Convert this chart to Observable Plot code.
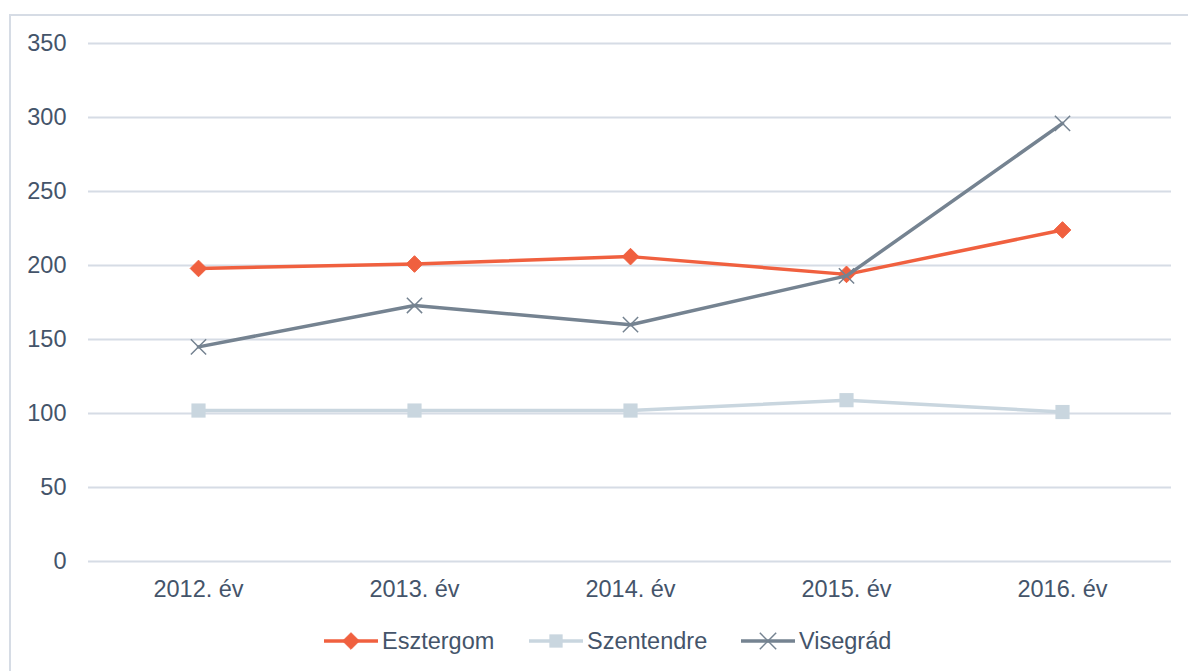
<!DOCTYPE html>
<html>
<head>
<meta charset="utf-8">
<script src="https://cdn.jsdelivr.net/npm/d3@7"></script>
<script src="https://cdn.jsdelivr.net/npm/@observablehq/plot@0.6"></script>
<style>
  html, body { margin: 0; padding: 0; background: #fff; }
  body { width: 1188px; height: 671px; position: relative; overflow: hidden; font-family: "Liberation Sans", Arial, sans-serif; }
  #frame { position: absolute; left: 9px; top: 14px; width: 1179px; height: 657px; border-left: 2px solid #D6DCE5; border-top: 2px solid #D6DCE5; box-sizing: border-box; }
  #chart { position: absolute; left: 0; top: 0; }
  #legend { position: absolute; top: 626px; left: 0; width: 1188px; height: 30px; }
  .item { position: absolute; top: 0; display: flex; align-items: center; height: 30px; font-size: 23.5px; color: #44546A; white-space: nowrap; }
  .item svg { display: block; margin-right: 4px; flex: none; }
</style>
</head>
<body>
<div id="frame"></div>
<div id="chart"></div>
<div id="legend"></div>
<script>
const years = ["2012. év", "2013. év", "2014. év", "2015. év", "2016. év"];
const seriesNames = ["Esztergom", "Szentendre", "Visegrád"];
const esztergom = [198, 201, 206, 194, 224];
const szentendre = [102, 102, 102, 109, 101];
const visegrad = [145, 173, 160, 193, 296];
const yTicks = [0, 50, 100, 150, 200, 250, 300, 350];
const colors = ["#F0603F", "#C9D6DF", "#758391"];

const valuesBySeries = [esztergom, szentendre, visegrad];
const data = seriesNames.flatMap((s, i) => years.map((y, j) => ({series: s, year: y, value: valuesBySeries[i][j]})));
const bySeries = s => data.filter(d => d.series === s);

const textColor = "#44546A";
const chart = Plot.plot({
  width: 1188,
  height: 612,
  marginLeft: 88,
  marginRight: 17,
  marginTop: 43,
  marginBottom: 51,
  style: { fontFamily: "'Liberation Sans', Arial, sans-serif", fontSize: "23.5px", color: textColor, background: "transparent" },
  x: { type: "point", domain: years, padding: 0.5, label: null },
  y: { domain: [0, 350], ticks: yTicks, label: null },
  marks: [
    Plot.ruleY(yTicks, { stroke: "#D6DCE5", strokeWidth: 2 }),
    Plot.axisY({ ticks: yTicks, tickSize: 0, tickPadding: 22, fontSize: 23.5, fill: textColor, label: null }),
    Plot.axisX({ tickSize: 0, tickPadding: 19, fontSize: 23.5, fill: textColor, label: null }),
    // Esztergom
    Plot.line(bySeries("Esztergom"), { x: "year", y: "value", stroke: colors[0], strokeWidth: 3.5 }),
    Plot.dot(bySeries("Esztergom"), { x: "year", y: "value", symbol: "diamond2", r: 7.5, fill: colors[0], stroke: colors[0], strokeWidth: 1 }),
    // Szentendre
    Plot.line(bySeries("Szentendre"), { x: "year", y: "value", stroke: colors[1], strokeWidth: 3.5 }),
    Plot.dot(bySeries("Szentendre"), { x: "year", y: "value", symbol: "square", r: 8, fill: colors[1], stroke: "none" }),
    // Visegrád
    Plot.line(bySeries("Visegrád"), { x: "year", y: "value", stroke: colors[2], strokeWidth: 3.5 }),
    Plot.dot(bySeries("Visegrád"), { x: "year", y: "value", symbol: "times", r: 7, stroke: colors[2], strokeWidth: 1.5, fill: "none" })
  ]
});
document.getElementById("chart").appendChild(chart);

// Legend
const legend = document.getElementById("legend");
const lefts = [324, 529, 741];
const symbols = ["diamond2", "square", "times"];
seriesNames.forEach((name, i) => {
  const item = document.createElement("div");
  item.className = "item";
  item.style.left = lefts[i] + "px";
  const svg = d3.create("svg").attr("width", 54).attr("height", 22);
  svg.append("line").attr("x1", 0).attr("x2", 54).attr("y1", 11).attr("y2", 11)
    .attr("stroke", colors[i]).attr("stroke-width", 3.5);
  const sym = { diamond2: d3.symbolDiamond2, square: d3.symbolSquare, times: d3.symbolTimes }[symbols[i]];
  const size = Math.PI * 7.5 * 7.5;
  const p = svg.append("path").attr("transform", "translate(27,11)").attr("d", d3.symbol(sym, size)());
  if (symbols[i] === "times") p.attr("fill", "none").attr("stroke", colors[i]).attr("stroke-width", 1.5);
  else p.attr("fill", colors[i]).attr("stroke", symbols[i] === "square" ? "none" : colors[i]);
  item.appendChild(svg.node());
  const span = document.createElement("span");
  span.textContent = name;
  item.appendChild(span);
  legend.appendChild(item);
});
</script>
</body>
</html>
